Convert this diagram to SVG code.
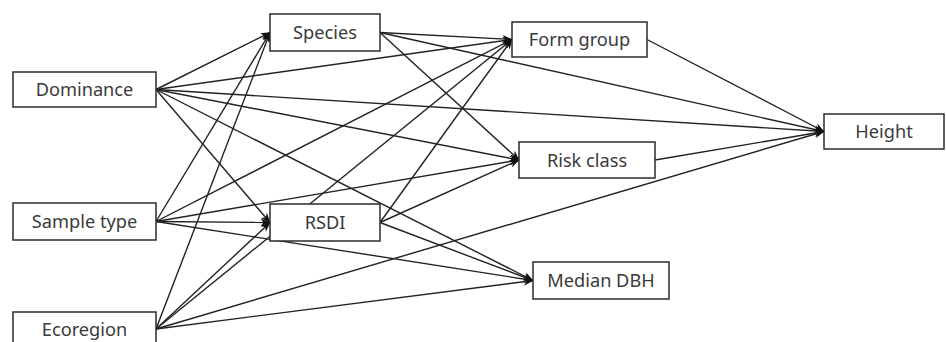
<svg xmlns="http://www.w3.org/2000/svg" width="946" height="342" viewBox="0 0 946 342">
<style>
.box{fill:#fff;stroke:#2b2b2b;stroke-width:1.5}
.lbl{font-family:"Noto Sans","Open Sans",sans-serif;font-size:18.2px;fill:#3a3a3a;text-anchor:middle}
.e{stroke:#222;stroke-width:1.4;fill:none;marker-end:url(#ah)}
</style>
<defs>
<marker id="ah" viewBox="0 0 10 8" refX="9.5" refY="4" markerWidth="10" markerHeight="8" markerUnits="userSpaceOnUse" orient="auto">
<path d="M0,0 L10,4 L0,8 L3,4 z" fill="#111"/>
</marker>
</defs>
<rect width="946" height="342" fill="#fff"/>
<g id="connectors">
<line class="e" x1="156" y1="89.5" x2="270" y2="32.5"/>
<line class="e" x1="156" y1="89.5" x2="512" y2="39.5"/>
<line class="e" x1="156" y1="89.5" x2="824" y2="131.5"/>
<line class="e" x1="156" y1="89.5" x2="519" y2="160"/>
<line class="e" x1="156" y1="89.5" x2="533" y2="280.5"/>
<line class="e" x1="156" y1="89.5" x2="270" y2="222.5"/>
<line class="e" x1="156" y1="221.5" x2="270" y2="32.5"/>
<line class="e" x1="156" y1="221.5" x2="512" y2="39.5"/>
<line class="e" x1="156" y1="221.5" x2="519" y2="160"/>
<line class="e" x1="156" y1="221.5" x2="270" y2="222.5"/>
<line class="e" x1="156" y1="221.5" x2="533" y2="280.5"/>
<line class="e" x1="156" y1="329" x2="270" y2="32.5"/>
<line class="e" x1="156" y1="329" x2="512" y2="39.5"/>
<line class="e" x1="156" y1="329" x2="270" y2="222.5"/>
<line class="e" x1="156" y1="329" x2="824" y2="131.5"/>
<line class="e" x1="156" y1="329" x2="533" y2="280.5"/>
<line class="e" x1="380" y1="32.5" x2="512" y2="39.5"/>
<line class="e" x1="380" y1="32.5" x2="824" y2="131.5"/>
<line class="e" x1="380" y1="32.5" x2="519" y2="160"/>
<line class="e" x1="380" y1="222.5" x2="512" y2="39.5"/>
<line class="e" x1="380" y1="222.5" x2="519" y2="160"/>
<line class="e" x1="380" y1="222.5" x2="533" y2="280.5"/>
<line class="e" x1="647" y1="39.5" x2="824" y2="131.5"/>
<line class="e" x1="655" y1="160" x2="824" y2="131.5"/>
</g>
<g id="dominance"><rect class="box" x="13" y="72" width="143" height="35"/><text class="lbl" x="84.5" y="96">Dominance</text></g>
<g id="sample-type"><rect class="box" x="13" y="203" width="143" height="37"/><text class="lbl" x="84.5" y="228">Sample type</text></g>
<g id="ecoregion"><rect class="box" x="13" y="312" width="143" height="36"/><text class="lbl" x="84.5" y="336">Ecoregion</text></g>
<g id="species"><rect class="box" x="270" y="14" width="110" height="37"/><text class="lbl" x="325" y="39">Species</text></g>
<g id="rsdi"><rect class="box" x="270" y="204" width="110" height="37"/><text class="lbl" x="325" y="229">RSDI</text></g>
<g id="form-group"><rect class="box" x="512" y="22" width="135" height="35"/><text class="lbl" x="579.5" y="46">Form group</text></g>
<g id="risk-class"><rect class="box" x="519" y="142" width="136" height="36"/><text class="lbl" x="587" y="166.5">Risk class</text></g>
<g id="median-dbh"><rect class="box" x="533" y="262" width="136" height="37"/><text class="lbl" x="601" y="287">Median DBH</text></g>
<g id="height"><rect class="box" x="824" y="114" width="120" height="35"/><text class="lbl" x="884" y="138">Height</text></g>
</svg>
